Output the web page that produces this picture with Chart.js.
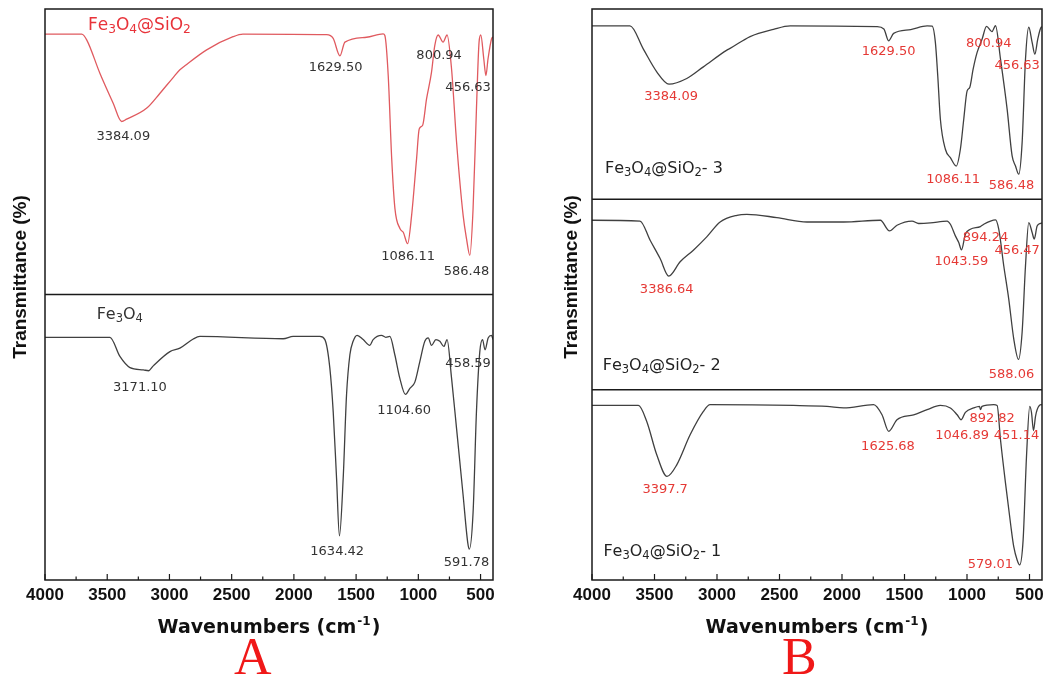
<!DOCTYPE html>
<html>
<head>
<meta charset="utf-8">
<script src="https://cdn.jsdelivr.net/npm/chart.js@4.4.0/dist/chart.umd.min.js"></script>
<style>
html, body { margin: 0; padding: 0; background: #fff; }
#wrap { position: relative; width: 1050px; height: 677px; overflow: hidden; }
#chartA { position: absolute; left: 0; top: 0; }
#chartB { position: absolute; left: 525px; top: 0; }
.panel { position: absolute; top: 631px; font-family: "Liberation Serif", "Times New Roman", serif; font-size: 52px; line-height: 1; color: #f01818; }
</style>
</head>
<body>
<div id="wrap">
<canvas id="chartA" width="525" height="677"></canvas>
<canvas id="chartB" width="525" height="677"></canvas>
<div class="panel" style="left:234px">A</div>
<div class="panel" style="left:782px">B</div>
</div>
<script>
// x axis tick labels (wavenumbers, cm-1)
var xTicks = [500, 1000, 1500, 2000, 2500, 3000, 3500, 4000];

// Panel A, top: Fe3O4@SiO2
var wnSio2A = [4000, 3705, 3665, 3559, 3452, 3384, 3344, 3182, 3076, 2972, 2916, 2876, 2701, 2489, 2409,
    1737, 1684, 1630, 1590, 1416, 1283, 1269, 1242, 1214, 1188, 1148, 1120, 1086, 1054, 1014, 993, 966,
    934, 894, 868, 841, 801, 769, 733, 693, 640, 613, 586, 560, 533, 512, 498, 474, 457, 440, 412, 400];
var tSio2A = [91.2, 91.2, 89.2, 77.5, 67.0, 60.6, 61.4, 65.3, 70.5, 75.9, 78.7, 80.1, 85.7, 90.3, 91.2,
    91.0, 89.7, 83.6, 88.4, 90.1, 91.3, 90.7, 76.7, 47.6, 30.1, 23.1, 21.7, 17.8, 27.7, 47.6, 58.0, 59.2,
    68.5, 77.9, 87.2, 90.9, 88.4, 90.9, 79.0, 53.5, 27.7, 19.6, 13.7, 30.1, 65.0, 88.4, 90.9, 82.5, 76.7, 82.5, 89.5, 90.2];

// Panel A, bottom: Fe3O4
var wnFe3o4 = [4000, 3478, 3398, 3317, 3210, 3168, 3130, 2996, 2916, 2809, 2755, 2086, 2006, 1791, 1751,
    1711, 1684, 1657, 1634, 1604, 1577, 1550, 1524, 1492, 1443, 1390, 1363, 1296, 1261, 1229, 1189, 1149,
    1104, 1068, 1028, 988, 948, 921, 894, 859, 827, 795, 769, 733, 693, 640, 603, 590, 560, 533, 506, 484,
    464, 439, 412, 400];
var tFe3o4 = [85.0, 85.0, 78.3, 74.4, 73.6, 73.3, 75.0, 80.0, 81.2, 84.4, 85.3, 84.5, 85.3, 85.3, 84.2,
    74.2, 58.9, 35.5, 15.5, 35.5, 64.8, 78.9, 83.6, 85.7, 84.2, 82.2, 84.2, 85.7, 85.0, 85.3, 78.9, 70.7,
    65.0, 67.1, 69.3, 76.5, 83.6, 84.8, 82.2, 84.2, 83.6, 81.8, 84.2, 70.7, 53.1, 29.6, 13.1, 10.8, 23.7,
    58.9, 80.0, 84.2, 80.6, 84.8, 85.7, 84.2];

// Panel B, top: Fe3O4@SiO2-3
var wnSio2_3 = [4000, 3696, 3589, 3482, 3384, 3242, 3109, 2921, 2895, 2735, 2548, 2414, 1720, 1665, 1627,
    1587, 1450, 1319, 1279, 1253, 1234, 1213, 1173, 1133, 1086, 1053, 1026, 999, 978, 951, 919, 879, 844,
    801, 772, 732, 679, 639, 612, 586, 559, 532, 506, 479, 457, 434, 407, 400];
var tSio2_3 = [91.1, 91.1, 78.9, 67.0, 60.5, 63.5, 69.6, 78.4, 79.3, 85.5, 89.3, 91.1, 90.7, 89.5, 83.3,
    87.2, 89.2, 91.1, 91.0, 82.5, 64.9, 42.1, 26.3, 21.9, 17.5, 26.3, 42.1, 57.0, 58.8, 68.4, 77.2, 84.2, 90.9,
    88.1, 91.2, 73.7, 47.4, 22.8, 17.5, 13.2, 29.8, 73.7, 90.4, 82.5, 76.3, 84.2, 90.4, 90.6];

// Panel B, middle: Fe3O4@SiO2-2
var wnSio2_2 = [4000, 3616, 3535, 3455, 3386, 3295, 3189, 3082, 2975, 2841, 2761, 2521, 2280, 1987, 1693,
    1620, 1560, 1440, 1387, 1293, 1159, 1133, 1093, 1066, 1044, 1013, 973, 893, 866, 812, 772, 746, 706,
    666, 626, 588, 559, 532, 506, 479, 462, 439, 412, 400];
var tSio2_2 = [89.0, 88.6, 78.5, 68.9, 59.7, 67.2, 73.3, 80.3, 88.1, 91.6, 92.1, 90.4, 88.1, 88.1, 89.0,
    83.4, 86.4, 88.6, 87.3, 87.6, 88.6, 86.9, 80.8, 77.3, 73.5, 81.7, 84.3, 85.7, 86.9, 88.6, 89.2, 84.3, 65.1,
    47.6, 26.7, 15.9, 30.2, 65.1, 87.8, 82.6, 79.1, 86.0, 87.4, 87.6];

// Panel B, bottom: Fe3O4@SiO2-1
var wnSio2_1 = [4000, 3629, 3562, 3482, 3400, 3322, 3215, 3109, 3055, 2388, 2120, 1987, 1747, 1680, 1626,
    1560, 1427, 1319, 1213, 1133, 1079, 1047, 1013, 946, 900, 892, 880, 786, 759, 732, 692, 652, 626, 599,
    579, 551, 524, 498, 484, 468, 452, 439, 407, 400];
var tSio2_1 = [91.7, 91.7, 83.3, 65.8, 54.4, 60.5, 76.3, 88.6, 92.1, 91.7, 91.2, 90.4, 92.1, 86.8, 78.1,
    84.2, 86.8, 89.5, 91.7, 90.4, 86.8, 84.2, 88.1, 90.4, 91.2, 89.5, 91.2, 92.1, 91.7, 73.7, 50.9, 29.8, 17.5,
    10.5, 7.9, 21.1, 64.9, 91.2, 88.0, 78.5, 86.0, 89.5, 92.1, 92.0];

// peak labels: text, wavenumber, transmittance
var notesSio2A = [['3384.09', 3371, 55.3], ['1629.50', 1665, 79.3], ['800.94', 833, 83.6],
    ['456.63', 600, 72.5], ['1086.11', 1082, 13.2], ['586.48', 613, 8.1]];
var notesFe3o4 = [['3171.10', 3237, 67.5], ['1634.42', 1652, 10.0], ['1104.60', 1114, 59.5],
    ['458.59', 600, 75.9], ['591.78', 613, 6.1]];
var notesSio2_3 = [['3384.09', 3367, 53.8], ['1629.50', 1627, 77.5], ['800.94', 826, 81.9],
    ['456.63', 599, 70.5], ['1086.11', 1111, 10.4], ['586.48', 644, 7.4]];
var notesSio2_2 = [['3386.64', 3402, 52.7], ['894.24', 852, 79.9], ['456.47', 599, 73.3],
    ['1043.59', 1045, 67.2], ['588.06', 644, 7.9]];
var notesSio2_1 = [['3397.7', 3415, 47.4], ['1625.68', 1632, 70.2], ['892.82', 799, 84.6],
    ['1046.89', 1039, 75.9], ['451.14', 604, 75.9], ['579.01', 813, 8.3]];

function spectrum(wn, t) {
    return wn.map(function (w, i) { return { x: w, y: t[i] }; });
}

function drawFormula(ctx, text, x, yMid, color, size) {
    ctx.fillStyle = color;
    ctx.textAlign = 'left';
    ctx.textBaseline = 'alphabetic';
    var base = yMid + size * 0.36;
    var cx = x;
    for (var i = 0; i < text.length; i++) {
        var ch = text[i];
        var sub = /\d/.test(ch) && i > 0 && /[A-Za-z]/.test(text[i - 1]);
        ctx.font = (sub ? size * 0.72 : size) + 'px "DejaVu Sans", sans-serif';
        ctx.fillText(ch, cx, sub ? base + size * 0.2 : base);
        cx += ctx.measureText(ch).width;
    }
}

var framePlugin = {
    id: 'frame',
    afterDatasetsDraw: function (chart, args, o) {
        var ctx = chart.ctx, a = chart.chartArea, x = chart.scales.x;
        ctx.save();

        o.panels.forEach(function (p) {
            var y = chart.scales[p.axis];
            ctx.font = '13px "DejaVu Sans", sans-serif';
            ctx.fillStyle = p.noteColor;
            ctx.textAlign = 'center';
            ctx.textBaseline = 'middle';
            p.notes.forEach(function (n) {
                ctx.fillText(n[0], x.getPixelForValue(n[1]), y.getPixelForValue(n[2]));
            });
            drawFormula(ctx, p.name, x.getPixelForValue(p.nameAt[0]), y.getPixelForValue(p.nameAt[1]), p.nameColor, p.nameSize);
        });

        // box and dividers
        ctx.strokeStyle = '#1a1a1a';
        ctx.lineWidth = 1.5;
        ctx.strokeRect(a.left, a.top, a.right - a.left, a.bottom - a.top);
        o.panels.slice(0, -1).forEach(function (p) {
            var top = chart.scales[p.axis].top;
            ctx.beginPath();
            ctx.moveTo(a.left, top);
            ctx.lineTo(a.right, top);
            ctx.stroke();
        });

        // inward ticks
        ctx.lineWidth = 1.2;
        for (var v = 500; v <= 4000; v += 250) {
            var px = x.getPixelForValue(v);
            var len = v % 500 === 0 ? 6 : 3.5;
            ctx.beginPath();
            ctx.moveTo(px, a.bottom);
            ctx.lineTo(px, a.bottom - len);
            ctx.stroke();
        }

        // y title
        ctx.save();
        ctx.translate(o.yTitleX, o.yTitleY);
        ctx.rotate(-Math.PI / 2);
        ctx.fillStyle = '#111';
        ctx.font = 'bold 19px "Liberation Sans", Arial, sans-serif';
        ctx.textAlign = 'center';
        ctx.textBaseline = 'middle';
        ctx.fillText('Transmittance (%)', 0, 0);
        ctx.restore();

        // x title with superscript
        var main = 'Wavenumbers (cm', sup = '-1', end = ')';
        var big = 'bold 19px "DejaVu Sans", sans-serif';
        var small = 'bold 12px "DejaVu Sans", sans-serif';
        ctx.font = big;
        var w1 = ctx.measureText(main).width, w3 = ctx.measureText(end).width;
        ctx.font = small;
        var w2 = ctx.measureText(sup).width;
        var sx = o.xTitleX - (w1 + w2 + w3 + 2) / 2;
        ctx.fillStyle = '#111';
        ctx.textAlign = 'left';
        ctx.textBaseline = 'alphabetic';
        ctx.font = big;
        ctx.fillText(main, sx, o.xTitleY + 7);
        ctx.font = small;
        ctx.fillText(sup, sx + w1 + 1, o.xTitleY - 1);
        ctx.font = big;
        ctx.fillText(end, sx + w1 + w2 + 2, o.xTitleY + 7);

        ctx.restore();
    }
};

function buildChart(id, panels, yWidth, padRight, titles) {
    var scales = {
        x: {
            type: 'linear',
            min: 400,
            max: 4000,
            reverse: true,
            afterBuildTicks: function (s) { s.ticks = xTicks.map(function (v) { return { value: v }; }); },
            afterFit: function (s) { s.height = 30; },
            grid: { display: false, drawTicks: false },
            border: { display: false },
            ticks: {
                color: '#111',
                padding: 5,
                maxRotation: 0,
                autoSkip: false,
                callback: function (v) { return String(v); },
                font: { family: '"Liberation Sans", Arial, sans-serif', size: 17, weight: 'bold' }
            }
        }
    };
    panels.forEach(function (p) {
        scales[p.axis] = {
            type: 'linear',
            position: 'left',
            stack: 'panel',
            stackWeight: 1,
            min: 0,
            max: 100,
            afterFit: function (s) { s.width = yWidth; },
            grid: { display: false, drawTicks: false },
            border: { display: false },
            ticks: { display: false }
        };
    });

    return new Chart(document.getElementById(id), {
        type: 'line',
        data: {
            datasets: panels.map(function (p) {
                return {
                    label: p.name,
                    data: p.data,
                    yAxisID: p.axis,
                    borderColor: p.color,
                    borderWidth: 1.3,
                    pointRadius: 0,
                    fill: false,
                    cubicInterpolationMode: 'monotone'
                };
            })
        },
        options: {
            responsive: false,
            animation: false,
            layout: { padding: { left: 0, right: padRight, top: 9, bottom: 67 } },
            scales: scales,
            plugins: {
                legend: { display: false },
                tooltip: { enabled: false },
                frame: {
                    panels: panels,
                    yTitleX: titles.yx,
                    yTitleY: titles.yy,
                    xTitleX: titles.xx,
                    xTitleY: titles.xy
                }
            }
        },
        plugins: [framePlugin]
    });
}

var grey = '#404040';

buildChart('chartA', [
    { axis: 'yFe', name: 'Fe3O4', nameAt: [3585, 93.6], nameColor: '#333', nameSize: 16,
      data: spectrum(wnFe3o4, tFe3o4), color: grey, notes: notesFe3o4, noteColor: '#333' },
    { axis: 'ySio2', name: 'Fe3O4@SiO2', nameAt: [3655, 94.8], nameColor: '#e8333a', nameSize: 17,
      data: spectrum(wnSio2A, tSio2A), color: '#e05a5f', notes: notesSio2A, noteColor: '#333' }
], 45, 32, { yx: 21, yy: 277, xx: 269, xy: 626 });

buildChart('chartB', [
    { axis: 'y1', name: 'Fe3O4@SiO2- 1', nameAt: [3909, 15.8], nameColor: '#222', nameSize: 16,
      data: spectrum(wnSio2_1, tSio2_1), color: grey, notes: notesSio2_1, noteColor: '#e53935' },
    { axis: 'y2', name: 'Fe3O4@SiO2- 2', nameAt: [3914, 13.5], nameColor: '#222', nameSize: 16,
      data: spectrum(wnSio2_2, tSio2_2), color: grey, notes: notesSio2_2, noteColor: '#e53935' },
    { axis: 'y3', name: 'Fe3O4@SiO2- 3', nameAt: [3896, 17.0], nameColor: '#222', nameSize: 16,
      data: spectrum(wnSio2_3, tSio2_3), color: grey, notes: notesSio2_3, noteColor: '#e53935' }
], 67, 8, { yx: 47, yy: 277, xx: 292, xy: 626 });
</script>
</body>
</html>
